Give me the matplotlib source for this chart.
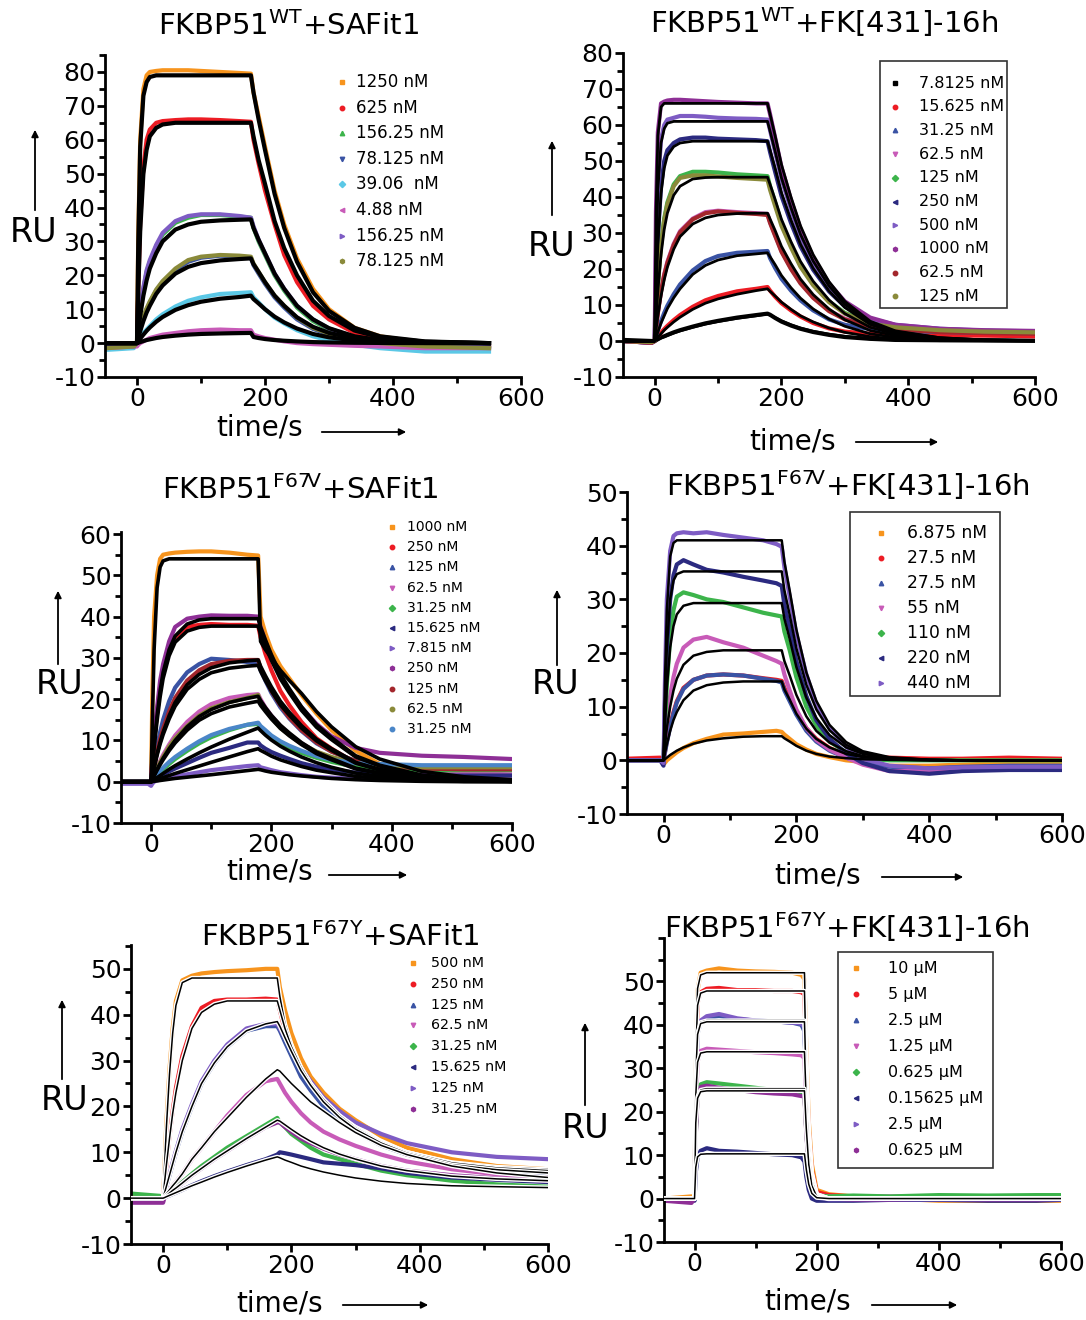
import matplotlib
matplotlib.use('Agg')
import matplotlib.pyplot as plt
from matplotlib.lines import Line2D
from matplotlib.patches import Rectangle, FancyArrowPatch
from matplotlib.ticker import MultipleLocator
import matplotlib.patheffects as pe

plt.rcParams['font.family'] = ['DejaVu Sans']
plt.rcParams['axes.unicode_minus'] = False
plt.rcParams['mathtext.default'] = 'regular'

# ---------------- data ----------------
# panel 1: FKBP51 WT + SAFit1
t1 = [-48, -5, 0, 2, 5, 10, 15, 20, 30, 40, 60, 80, 100, 130, 160, 178, 182, 190, 200, 215, 230, 250, 275, 300, 340, 380, 450, 550]
labels1 = ['1250 nM', '625 nM', '156.25 nM', '78.125 nM', '39.06  nM', '4.88 nM', '156.25 nM', '78.125 nM']
data1 = [
    [-1.5, -1, 0, 32, 60, 75, 79, 80, 80.3, 80.5, 80.5, 80.5, 80.3, 80, 79.7, 79.5, 74, 67, 58, 45, 35, 25, 16, 10, 4.5, 2, 0, -1],
    [-1.5, -1, 0, 16, 36, 52, 60, 63, 65, 65.5, 65.8, 66, 66, 65.8, 65.5, 65.3, 60, 53, 45, 35, 26, 18, 11, 7, 3, 1, -0.5, -1.5],
    [-1, -1, 0, 5, 10, 16, 21, 24, 28.5, 32, 35.5, 37, 37.8, 37.8, 37.3, 37, 34, 30, 26, 20, 15.5, 10.5, 6.5, 4, 1.5, 0.3, -0.8, -1.5],
    [-1, -1, 0, 2, 4.5, 7.5, 10, 12, 15.5, 18, 21.5, 24, 25.2, 25.8, 25.5, 25.2, 23, 20.5, 17.5, 13.5, 10.5, 7, 4.2, 2.5, 0.8, 0, -1, -1.8],
    [-2, -1.5, 0, 1, 2, 3, 4, 5, 7, 8.5, 10.8, 12.5, 13.5, 14.5, 14.8, 15, 13.5, 12, 10, 7.5, 5.8, 3.8, 2, 0.8, -0.5, -1.5, -2.5, -2.5],
    [-1.5, -1, -1, -0.5, 0, 0.5, 1, 1.5, 2, 2.5, 3, 3.5, 3.8, 4, 3.8, 3.8, 2.5, 2, 1.5, 1, 0.5, 0, -0.3, -0.5, -0.8, -1, -1.5, -1.5],
    [-1, -1, 0, 5, 10, 16.5, 21.5, 24.5, 29, 32.5, 36, 37.5, 38, 38, 37.5, 37, 34.5, 30.5, 26.5, 20.5, 16, 11, 7, 4.3, 1.8, 0.5, -0.5, -1],
    [-1.5, -1, 0, 2.2, 4.7, 7.8, 10.3, 12.3, 15.8, 18.3, 22, 24.5, 25.5, 26, 25.8, 25.5, 23.5, 21, 18, 14, 11, 7.5, 4.5, 2.8, 1, 0, -1, -1.5],
]
fits1 = [
    [0, 0, 0, 30, 58, 73, 77, 78.5, 79, 79, 79, 79, 79, 79, 79, 79, 74, 66, 57, 44, 34, 24, 15, 9.5, 4.5, 2, 0.5, 0],
    [0, 0, 0, 15, 33, 50, 57, 61, 63.5, 64.5, 65, 65, 65, 65, 65, 65, 61, 54, 47, 36, 28, 20, 12.5, 8, 3.7, 1.7, 0.4, 0],
    [0, 0, 0, 3.5, 8, 14, 18.5, 22, 26.5, 30, 33.5, 35, 35.8, 36.2, 36.4, 36.5, 34, 30.5, 26.5, 20.5, 16, 11, 7, 4.4, 2, 0.9, 0.2, 0],
    [0, 0, 0, 1.5, 3.5, 6.5, 9, 11, 14.5, 17, 20.5, 22.5, 23.6, 24.4, 24.8, 25, 23.3, 21, 18, 14, 11, 7.6, 4.8, 3, 1.4, 0.6, 0.1, 0],
    [0, 0, 0, 0.5, 1.3, 2.5, 3.6, 4.6, 6.3, 7.7, 9.8, 11.2, 12.2, 13.1, 13.6, 14, 13, 11.7, 10, 7.8, 6.1, 4.3, 2.7, 1.7, 0.8, 0.35, 0.05, 0],
    [0, 0, 0, 0.1, 0.3, 0.6, 0.9, 1.1, 1.5, 1.8, 2.2, 2.5, 2.7, 2.85, 2.95, 3, 1.8, 1.5, 1.2, 0.9, 0.7, 0.5, 0.3, 0.2, 0.1, 0.05, 0, 0],
]

# panel 2: FKBP51 WT + FK[431]-16h
t2 = [-50, -5, 0, 2, 5, 10, 15, 20, 30, 40, 60, 80, 100, 130, 160, 178, 182, 190, 200, 215, 230, 250, 275, 300, 340, 380, 450, 520, 600]
labels2 = ['7.8125 nM', '15.625 nM', '31.25 nM', '62.5 nM', '125 nM', '250 nM', '500 nM', '1000 nM', '62.5 nM', '125 nM']
data2 = [
    [0.3, 0, 0, 0.2, 0.5, 1, 1.3, 1.7, 2.4, 3, 4, 4.9, 5.6, 6.5, 7.2, 7.6, 7.3, 6.4, 5.4, 4.3, 3.4, 2.5, 1.7, 1.1, 0.6, 0.3, 0.2, 0.2, 0.1],
    [0, -0.3, 0, 0.6, 1.3, 2.3, 3.3, 4.2, 5.8, 7.2, 9.5, 11.3, 12.5, 13.8, 14.5, 15, 14, 12.3, 10.5, 8.5, 6.8, 5, 3.5, 2.6, 2, 1.8, 1.5, 1.5, 1.3],
    [0, -0.5, 0, 1.2, 3, 5.5, 7.8, 9.8, 13, 15.7, 19.6, 22.2, 23.6, 24.5, 24.8, 25, 23, 20.3, 17.3, 14, 11.3, 8.5, 6, 4.5, 3.3, 2.8, 2.5, 2.3, 2.2],
    [0, -0.5, 0, 3.5, 8, 14, 18.5, 22, 27, 30.5, 34, 35.8, 36.2, 35.8, 35.5, 35.3, 33, 29.5, 25, 20.3, 16.3, 12.2, 8.5, 6.2, 4.3, 3.5, 2.8, 2.6, 2.4],
    [0, -0.3, 0, 7, 16, 27, 34, 38.5, 43.5, 45.8, 47, 47, 46.8, 46.3, 46, 45.8, 43, 38.5, 32.8, 26.5, 21, 15.8, 11, 7.8, 5, 4, 3.2, 2.8, 2.6],
    [0, -0.5, 0, 13, 29, 43, 50, 53, 55, 56, 56.5, 56.5, 56.2, 56, 55.8, 55.5, 52.5, 47, 40.3, 32.8, 26.3, 19.8, 13.8, 9.6, 5.8, 4.3, 3.3, 2.8, 2.6],
    [0, -0.3, 0, 23, 43, 56, 60, 61.5, 62, 62.5, 62.5, 62.3, 62, 61.8, 61.7, 61.5, 58.5, 52.5, 45, 36.5, 29, 21.5, 15, 10.3, 6.2, 4.5, 3.4, 2.9, 2.7],
    [0, -0.5, 0, 36, 58, 66, 66.5, 66.8, 67, 67, 66.8, 66.6, 66.4, 66.2, 66, 66, 63, 56.5, 48.3, 39.2, 31.2, 23.2, 16, 11, 6.5, 4.5, 3.4, 3, 2.8],
    [0, -0.5, 0, 3.3, 7.8, 13.8, 18.3, 21.7, 26.7, 30.2, 33.8, 35.5, 36, 35.6, 35.3, 35, 32.8, 29.2, 24.8, 20, 16, 12, 8.3, 6, 4, 3.2, 2.5, 2.2, 2],
    [0, -0.3, 0, 6.8, 15.5, 26.5, 33.5, 38, 43, 45.3, 46, 46, 45.7, 45.3, 45, 44.8, 42, 37.5, 32, 26, 20.6, 15.5, 10.8, 7.6, 4.8, 3.8, 3, 2.6, 2.4],
]
fits2 = [
    [0, 0, 0, 35, 57, 65, 66, 66, 66, 66, 66, 66, 66, 66, 66, 66, 63, 57, 49, 40, 32, 24, 16.5, 11, 5.5, 2.8, 0.9, 0.3, 0.1],
    [0, 0, 0, 22, 42, 55, 59, 60.5, 61, 61, 61, 61, 61, 61, 61, 61, 58.3, 52.7, 45.3, 37, 29.6, 22.2, 15.3, 10.2, 5.1, 2.6, 0.9, 0.3, 0.1],
    [0, 0, 0, 12, 27, 41, 48, 51.5, 54, 55, 55.5, 55.5, 55.5, 55.5, 55.5, 55.5, 53, 48, 41.2, 33.6, 26.9, 20.2, 13.9, 9.3, 4.6, 2.3, 0.8, 0.3, 0.1],
    [0, 0, 0, 6, 14, 24, 31, 35.5, 40.5, 43, 45, 45.4, 45.5, 45.5, 45.5, 45.5, 43.5, 39.3, 33.8, 27.6, 22.1, 16.6, 11.4, 7.6, 3.8, 1.9, 0.6, 0.2, 0.1],
    [0, 0, 0, 3, 7, 12.5, 17, 20.5, 25.5, 29, 32.5, 34.2, 35, 35.4, 35.5, 35.5, 33.9, 30.7, 26.3, 21.5, 17.2, 12.9, 8.9, 5.9, 2.9, 1.5, 0.5, 0.2, 0],
    [0, 0, 0, 1, 2.5, 5, 7, 9, 12, 14.5, 18.5, 21, 22.5, 23.7, 24.2, 24.5, 23.4, 21.2, 18.2, 14.8, 11.9, 8.9, 6.1, 4.1, 2, 1, 0.3, 0.1, 0],
    [0, 0, 0, 0.4, 1, 2, 3, 3.8, 5.3, 6.6, 8.8, 10.5, 11.7, 13, 14, 14.5, 13.8, 12.5, 10.8, 8.8, 7, 5.3, 3.6, 2.4, 1.2, 0.6, 0.2, 0.1, 0],
    [0, 0, 0, 0.2, 0.4, 0.8, 1.2, 1.5, 2.2, 2.8, 3.8, 4.7, 5.4, 6.3, 7, 7.5, 7.2, 6.5, 5.6, 4.5, 3.6, 2.7, 1.9, 1.3, 0.6, 0.3, 0.1, 0, 0],
]

# panel 3: FKBP51 F67V + SAFit1
t3 = [-50, -5, 0, 2, 5, 10, 15, 20, 30, 40, 60, 80, 100, 130, 160, 178, 182, 190, 200, 215, 230, 250, 275, 300, 340, 380, 450, 520, 600]
labels3 = ['1000 nM', '250 nM', '125 nM', '62.5 nM', '31.25 nM', '15.625 nM', '7.815 nM', '250 nM', '125 nM', '62.5 nM', '31.25 nM']
data3 = [
    [-0.3, 0, 0, 20, 40, 50, 54, 55, 55.3, 55.5, 55.7, 55.8, 55.8, 55.5, 55, 54.8, 40, 36, 32, 28, 25, 21, 16.5, 12.5, 7.5, 4.3, 1.5, 0.8, 0.5],
    [0, 0, 0, 5, 10, 17, 23, 27, 32, 35, 37.5, 38, 38.2, 38, 38, 37.8, 35, 31, 27, 22, 18.5, 14.5, 10.5, 8, 4.5, 2.5, 1, 0.5, 0.3],
    [0, 0, 0, 2, 4.5, 8.5, 12, 15, 19.5, 22.8, 26.5, 28.5, 29.8, 29.5, 29, 28.8, 27, 24.5, 21.5, 18, 15.3, 12.3, 9.3, 7.3, 5, 3.5, 2.5, 2, 1.5],
    [0, 0, 0, 0.8, 1.8, 3.5, 5, 6.5, 9, 11.2, 14.5, 17, 18.8, 20.3, 21, 21.2, 20, 18, 16, 13.5, 11.5, 9.3, 7.2, 5.8, 4, 3, 2.3, 2, 1.8],
    [0, 0, 0, 0.3, 0.8, 1.5, 2.2, 3, 4.3, 5.5, 7.5, 9.3, 10.8, 12.5, 13.8, 14, 13, 12, 10.8, 9.5, 8.3, 7, 5.8, 4.8, 3.6, 3, 2.7, 2.8, 2.8],
    [0, 0, 0, 0.2, 0.5, 0.9, 1.3, 1.7, 2.5, 3.2, 4.5, 5.8, 7, 8.2, 9.5, 9.5, 8.8, 8, 7.2, 6.3, 5.5, 4.5, 3.6, 3, 2.2, 1.8, 1.5, 1.5, 1.5],
    [-0.5, -0.5, -1, -0.5, 0, 0.3, 0.5, 0.7, 1, 1.3, 1.8, 2.3, 2.8, 3.3, 3.8, 4, 3.5, 3.2, 2.8, 2.3, 2, 1.6, 1.2, 1, 0.7, 0.5, 0.5, 0.5, 0.5],
    [0, 0, 0, 5.5, 11, 18, 24.5, 28.5, 34, 37.5, 39.5, 40, 40.3, 40.2, 40.2, 40, 37.5, 34, 30, 25.5, 22, 18, 14, 11, 8.2, 7, 6.3, 6, 5.5],
    [0, 0, 0, 1.5, 3.8, 7.3, 10.3, 12.8, 17, 20.3, 24.5, 27, 28.5, 29.3, 29.5, 29.5, 27.5, 25, 22, 18.5, 15.5, 12.5, 9.5, 7.3, 5, 3.8, 3.2, 3, 3],
    [0, 0, 0, 0.7, 1.6, 3.2, 4.7, 6, 8.5, 10.5, 13.5, 16, 17.8, 19.3, 20.3, 21, 19.3, 17.5, 15.5, 13, 11.3, 9.2, 7.3, 6, 4.5, 4, 3.5, 3.5, 3.5],
    [0, 0, 0, 0.4, 1, 1.8, 2.6, 3.4, 4.8, 6, 8, 9.8, 11.3, 12.8, 13.8, 14.3, 13.5, 12.5, 11.2, 9.8, 8.7, 7.5, 6.2, 5.3, 4.5, 4.3, 4, 4, 4],
]
fits3 = [
    [0, 0, 0, 14, 32, 47, 52, 53.5, 54, 54, 54, 54, 54, 54, 54, 54, 34, 32, 30, 27, 24.5, 21.4, 17, 13.3, 8.5, 5.5, 2.5, 1.2, 0.5],
    [0, 0, 0, 4, 9, 16, 22, 26.5, 32, 35.3, 38.2, 39.2, 39.5, 39.5, 39.5, 39.5, 37.5, 34.4, 30.8, 26.1, 22.5, 18.2, 13.8, 10.7, 6.3, 4, 1.6, 0.6, 0.2],
    [0, 0, 0, 3.6, 8.2, 14.8, 20.5, 25, 30.5, 33.8, 36.5, 37.4, 37.7, 37.7, 37.7, 37.7, 35.8, 32.8, 29.4, 24.9, 21.5, 17.3, 13.2, 10.2, 6, 3.8, 1.5, 0.6, 0.2],
    [0, 0, 0, 1.4, 3.5, 6.8, 9.6, 12, 16, 19.2, 23.5, 26, 27.6, 28.8, 29.3, 29.5, 28, 25.7, 23, 19.5, 16.8, 13.6, 10.3, 8, 4.7, 3, 1.2, 0.4, 0.1],
    [0, 0, 0, 1.3, 3.3, 6.4, 9.1, 11.4, 15.2, 18.3, 22.4, 24.8, 26.4, 27.5, 28, 28.2, 26.8, 24.5, 22, 18.6, 16.1, 13, 9.9, 7.6, 4.5, 2.8, 1.1, 0.4, 0.1],
    [0, 0, 0, 0.6, 1.5, 3, 4.4, 5.7, 8, 10, 13.3, 15.8, 17.5, 19.2, 20.2, 20.7, 19.7, 18, 16.1, 13.7, 11.8, 9.5, 7.2, 5.6, 3.3, 2.1, 0.8, 0.3, 0.1],
    [0, 0, 0, 0.55, 1.4, 2.8, 4.1, 5.3, 7.5, 9.4, 12.5, 14.9, 16.5, 18.1, 19, 19.5, 18.5, 17, 15.2, 12.9, 11.1, 9, 6.8, 5.3, 3.1, 2, 0.8, 0.3, 0.1],
    [0, 0, 0, 0.2, 0.5, 1, 1.5, 2, 3, 3.9, 5.5, 7, 8.4, 10.3, 12, 13, 12.4, 11.3, 10.1, 8.6, 7.4, 6, 4.6, 3.5, 2.1, 1.3, 0.5, 0.2, 0.1],
    [0, 0, 0, 0.1, 0.25, 0.5, 0.75, 1, 1.5, 2, 2.9, 3.8, 4.7, 6, 7.3, 8, 7.6, 7, 6.2, 5.3, 4.6, 3.7, 2.8, 2.2, 1.3, 0.8, 0.3, 0.1, 0],
    [0, 0, 0, 0.05, 0.1, 0.2, 0.3, 0.4, 0.6, 0.8, 1.1, 1.4, 1.7, 2.2, 2.7, 3, 2.9, 2.6, 2.3, 2, 1.7, 1.4, 1.1, 0.8, 0.5, 0.3, 0.1, 0, 0],
]

# panel 4: FKBP51 F67V + FK[431]-16h
t4 = [-55, -5, 0, 2, 5, 10, 15, 20, 30, 45, 65, 90, 120, 150, 170, 178, 182, 190, 200, 215, 230, 250, 275, 300, 340, 400, 450, 520, 600]
labels4 = ['6.875 nM', '27.5 nM', '27.5 nM', '55 nM', '110 nM', '220 nM', '440 nM']
data4 = [
    [0, 0, 0, -0.5, 0, 0.5, 1, 1.5, 2.3, 3.2, 4, 4.8, 5, 5.3, 5.5, 5.3, 4.8, 4, 3, 2, 1.2, 0.6, 0, -0.3, -1, -1, -0.8, -0.5, -0.5],
    [0.3, 0.5, 0, 1.5, 3.5, 6.5, 9, 11, 13.5, 15, 15.8, 16, 15.8, 15.3, 15, 14.8, 13.5, 11.5, 9, 6, 4, 2.3, 1, 0.5, 0.5, 0.3, 0.3, 0.5, 0.3],
    [0, 0, 0, 1.3, 3.3, 6.2, 8.7, 10.8, 13.3, 15, 15.8, 16, 15.8, 15.2, 14.8, 14.5, 13, 11, 8.5, 5.5, 3.5, 1.8, 0.5, -0.5, -1.2, -1.5, -1.2, -1, -1],
    [0, 0, -0.5, 3, 7, 12, 15.5, 18, 21, 22.5, 23, 22, 21, 19.5, 18.5, 18, 16, 13, 9.5, 6, 3.8, 2, 0.5, -0.8, -2, -2, -1.8, -1.5, -1.5],
    [0, 0, 0, 6, 14, 23, 28, 30.5, 31.3, 30.8, 30, 29.5, 28.5, 27.5, 27, 26.8, 24, 20.5, 15.5, 10, 6.5, 3.5, 1.5, 0.3, 0, 0, 0, 0, 0],
    [0, 0, -1, 10, 21, 30, 34.5, 36.5, 37.3, 36.5, 35.5, 35, 34.2, 33.5, 33, 32.5, 29, 24.5, 18.5, 12, 7.5, 4, 1.3, -0.5, -2, -2.5, -2, -1.8, -1.8],
    [0, 0, -0.5, 14, 30, 39, 41.8, 42.3, 42.5, 42.3, 42.5, 42, 41.5, 41, 40.3, 39.8, 36, 30.5, 23.5, 16, 10.5, 6, 2.5, 0.3, -1, -1.5, -1.3, -1.2, -1.2],
]
fits4 = [
    [0, 0, 0, 14, 28, 38, 40.5, 41, 41, 41, 41, 41, 41, 41, 41, 41, 37, 31.6, 24.4, 16.4, 11.1, 6.6, 3.4, 1.7, 0.6, 0.1, 0, 0, 0],
    [0, 0, 0, 10, 21, 30, 33.5, 34.7, 35.2, 35.2, 35.2, 35.2, 35.2, 35.2, 35.2, 35.2, 31.7, 27.1, 20.9, 14.1, 9.5, 5.6, 2.9, 1.4, 0.5, 0.1, 0, 0, 0],
    [0, 0, 0, 6, 13.5, 21, 25, 27.2, 28.8, 29.3, 29.3, 29.3, 29.3, 29.3, 29.3, 29.3, 26.4, 22.6, 17.4, 11.7, 7.9, 4.7, 2.4, 1.2, 0.4, 0.1, 0, 0, 0],
    [0, 0, 0, 2.5, 6, 10, 13, 15.2, 17.8, 19.5, 20.2, 20.5, 20.5, 20.5, 20.5, 20.5, 18.5, 15.8, 12.2, 8.2, 5.5, 3.3, 1.7, 0.8, 0.3, 0.1, 0, 0, 0],
    [0, 0, 0, 1.2, 3, 5.5, 7.5, 9, 11.2, 13, 14, 14.5, 14.7, 14.7, 14.7, 14.7, 13.2, 11.3, 8.7, 5.9, 4, 2.4, 1.2, 0.6, 0.2, 0, 0, 0, 0],
    [0, 0, 0, 0.2, 0.5, 1, 1.4, 1.8, 2.4, 3.1, 3.7, 4.1, 4.4, 4.5, 4.5, 4.5, 4.1, 3.5, 2.7, 1.8, 1.2, 0.7, 0.4, 0.2, 0.1, 0, 0, 0, 0],
]

# panel 5: FKBP51 F67Y + SAFit1
t5 = [-50, -5, 0, 2, 5, 10, 15, 20, 30, 45, 60, 80, 100, 130, 160, 178, 182, 190, 200, 215, 230, 250, 275, 300, 340, 380, 450, 520, 600]
labels5 = ['500 nM', '250 nM', '125 nM', '62.5 nM', '31.25 nM', '15.625 nM', '125 nM', '31.25 nM']
data5 = [
    [0.5, 0, 0, 6, 16, 28, 37, 43, 47.5, 48.5, 49, 49.3, 49.5, 49.7, 50, 50, 46, 41, 36, 30.5, 26.5, 23, 19.5, 17, 13.5, 11, 8.5, 7, 6.3],
    [0, 0, 0, 3, 7, 13.5, 19, 24, 31, 37.5, 41.5, 43, 43.3, 43.3, 43.5, 43.3, 41, 36.5, 32, 27.5, 24, 20.5, 17.5, 15, 12, 9.5, 7.5, 6.3, 5.5],
    [0, 0, 0, 1, 2.5, 5, 7.5, 10, 14.5, 20, 25, 29.5, 33, 36.5, 37.5, 37.5, 36.5, 34, 31, 26.5, 23.5, 20, 17, 14.5, 11.5, 9.5, 7.3, 6, 5],
    [0, -0.5, 0, 0.4, 0.9, 1.8, 2.7, 3.5, 5.3, 8.5, 11, 14.5, 18, 22.5, 25.5, 26, 25, 23, 21, 18.5, 16.5, 14.5, 12.8, 11.4, 9.5, 8, 6.3, 5.2, 4.5],
    [1, 0.5, 0, 0.2, 0.5, 1.1, 1.7, 2.3, 3.5, 5.3, 7, 9, 11, 13.5, 16, 17.5, 16.5, 15.5, 14, 12.5, 11, 9.5, 8.5, 7.5, 6, 5, 3.8, 3, 2.5],
    [0, -0.5, 0, 0.1, 0.3, 0.6, 0.9, 1.2, 1.8, 2.8, 3.7, 4.8, 5.8, 7.2, 8.5, 9.5, 10, 9.8, 9.5, 9, 8.5, 7.8, 7.5, 7.2, 6.5, 5.5, 4.5, 4, 3.5],
    [0, 0, 0, 1, 2.6, 5.2, 7.8, 10.3, 15, 20.5, 25.5, 30, 33.5, 37, 38, 38, 37, 35, 32.5, 28.5, 25.5, 22, 19, 16.5, 14, 12, 10, 9, 8.5],
    [-1, -1, -1, 0, 0.5, 1.1, 1.7, 2.2, 3.3, 5, 6.5, 8.5, 10.3, 13, 15.5, 16.5, 16.5, 15.5, 14.5, 13, 12, 10.8, 9.5, 8.5, 7, 6, 5, 4.3, 3.8],
]
fits5 = [
    [0, 0, 0, 6, 15, 27, 36, 42, 47, 48, 48, 48, 48, 48, 48, 48, 44, 38, 33.5, 28.5, 25, 21.5, 18, 15.5, 12.3, 10, 7.8, 6.8, 6.3],
    [0, 0, 0, 3, 7, 13, 18.5, 23, 30, 37, 40.5, 42.3, 43, 43, 43, 43, 41, 37, 33, 28.5, 25, 21.5, 18, 15.3, 12.2, 10, 7.7, 6.6, 6],
    [0, 0, 0, 1, 2.5, 5, 7.5, 10, 14.5, 20, 25, 29.5, 33, 36.5, 38, 38.5, 37.5, 35, 32, 27.8, 24.6, 21, 17.6, 15, 12, 9.8, 7.3, 6.2, 5.5],
    [0, 0, 0, 0.4, 0.9, 1.8, 2.7, 3.5, 5.3, 8.5, 11, 14.5, 17.5, 22, 26, 28, 27.7, 26.5, 25, 23, 21, 19, 16.5, 14.3, 11.5, 9.5, 7, 5.5, 4.5],
    [0, 0, 0, 0.2, 0.5, 1.1, 1.7, 2.2, 3.3, 5, 6.5, 8.5, 10.3, 13, 15.5, 17, 16.8, 16, 15, 13.6, 12.4, 11, 9.6, 8.5, 7, 6, 4.8, 4.2, 3.8],
    [0, 0, 0, 0.1, 0.3, 0.6, 0.9, 1.2, 1.8, 2.7, 3.5, 4.6, 5.6, 7, 8.3, 9, 8.8, 8.3, 7.8, 7, 6.4, 5.7, 5, 4.4, 3.7, 3.2, 2.7, 2.5, 2.3],
]

# panel 6: FKBP51 F67Y + FK[431]-16h
t6 = [-50, -5, 0, 2, 5, 10, 20, 40, 70, 100, 130, 160, 175, 180, 183, 187, 192, 200, 220, 260, 320, 400, 480, 560, 600]
labels6 = ['10 µM', '5 µM', '2.5 µM', '1.25 µM', '0.625 µM', '0.15625 µM', '2.5 µM', '0.625 µM']
data6 = [
    [0, 0.5, 0, 30, 48, 52, 52.5, 53, 52.5, 52.3, 52.2, 52, 51.5, 50.5, 34, 18, 8, 2, 1, 0.5, 0, -0.5, -0.5, -0.5, -0.5],
    [0, 0, 0, 28, 45, 47.5, 48.3, 48.5, 48, 48, 47.8, 47.8, 47.5, 47, 30.5, 16, 6.5, 1.5, 0.8, 0.5, 0.3, 0.3, 0.2, 0.2, 0.2],
    [0, 0, 0, 25, 38, 40.5, 41.5, 42, 41.3, 41, 40.8, 40.5, 40, 38.5, 25, 12, 4, 0.5, -0.3, -0.3, -0.2, -0.2, -0.3, -0.3, -0.3],
    [0, 0, 0, 20, 31.5, 34, 34.5, 34.3, 34, 33.7, 33.5, 33.2, 33, 32.3, 21, 10.5, 3.8, 0.8, 0.5, 0.5, 0.5, 0.5, 0.5, 0.5, 0.5],
    [0, 0, 0, 15, 24, 26.3, 26.8, 26.5, 26, 25.5, 25, 24.8, 24.5, 24, 15.5, 7.8, 3, 0.7, 0.5, 0.7, 0.5, 0.8, 0.7, 0.8, 0.8],
    [0, 0, -0.5, 6, 9.5, 11, 11.6, 11, 10.8, 10.5, 10.2, 10, 9.5, 8.5, 5, 2, 0, -0.5, -0.5, -0.5, -0.3, -0.3, -0.5, -0.5, -0.3],
    [0, 0, 0, 25.5, 38.5, 41, 42, 42.5, 41.5, 41, 40.8, 40.5, 40.3, 39.5, 25.5, 12.5, 4.3, 0.5, -0.2, -0.2, -0.2, -0.2, -0.2, -0.2, -0.2],
    [-0.5, -1, 0, 14.5, 23.5, 25.7, 26, 25.5, 25, 24.5, 24.2, 24, 23.6, 23.5, 15, 7.5, 2.8, 0.5, 0, -0.2, -0.2, 0, -0.2, -0.2, 0],
]
fits6 = [
    [0, 0, 0, 36, 48.4, 51.5, 52, 52, 52, 52, 52, 52, 52, 52, 33.8, 16.6, 6.2, 1, 0, 0, 0, 0, 0, 0, 0],
    [0, 0, 0, 33.5, 44.5, 47.3, 47.8, 47.8, 47.8, 47.8, 47.8, 47.8, 47.8, 47.8, 31, 15.3, 5.7, 1, 0, 0, 0, 0, 0, 0, 0],
    [0, 0, 0, 28.7, 38.1, 40.6, 41, 41, 41, 41, 41, 41, 41, 41, 26.7, 13.1, 4.9, 0.8, 0, 0, 0, 0, 0, 0, 0],
    [0, 0, 0, 28.5, 37.8, 40.3, 40.7, 40.7, 40.7, 40.7, 40.7, 40.7, 40.7, 40.7, 26.5, 13, 4.9, 0.8, 0, 0, 0, 0, 0, 0, 0],
    [0, 0, 0, 23.7, 31.4, 33.5, 33.8, 33.8, 33.8, 33.8, 33.8, 33.8, 33.8, 33.8, 22, 10.8, 4.1, 0.7, 0, 0, 0, 0, 0, 0, 0],
    [0, 0, 0, 17.7, 23.5, 25, 25.3, 25.3, 25.3, 25.3, 25.3, 25.3, 25.3, 25.3, 16.4, 8.1, 3, 0.5, 0, 0, 0, 0, 0, 0, 0],
    [0, 0, 0, 17.4, 23.1, 24.6, 24.8, 24.8, 24.8, 24.8, 24.8, 24.8, 24.8, 24.8, 16.1, 7.9, 3, 0.5, 0, 0, 0, 0, 0, 0, 0],
    [0, 0, 0, 7.2, 9.6, 10.2, 10.3, 10.3, 10.3, 10.3, 10.3, 10.3, 10.3, 10.3, 6.7, 3.3, 1.2, 0.2, 0, 0, 0, 0, 0, 0, 0],
]

# ---------------- colours / markers (Prism style) ----------------
ORANGE, RED, GREEN, BLUE = '#f7941d', '#ed1c24', '#3cb44b', '#3a53a4'
CYAN, PINK, LPURPLE, OLIVE = '#5bc8e6', '#c85bb8', '#7e5cc4', '#8a8a3a'
DBLUE, PURPLE, DRED, SBLUE = '#2b2a80', '#8e2f96', '#a3262c', '#4a86c8'

colors1 = [ORANGE, RED, GREEN, BLUE, CYAN, PINK, LPURPLE, OLIVE]
markers1 = ['s', 'o', '^', 'v', 'D', '<', '>', 'h']
colors2 = ['k', RED, BLUE, PINK, GREEN, DBLUE, LPURPLE, PURPLE, DRED, OLIVE]
markers2 = ['s', 'o', '^', 'v', 'D', '<', '>', 'h', 'o', 'o']
colors3 = [ORANGE, RED, BLUE, PINK, GREEN, DBLUE, LPURPLE, PURPLE, DRED, OLIVE, SBLUE]
markers3 = ['s', 'o', '^', 'v', 'D', '<', '>', 'h', 'o', 'o', 'o']
colors4 = [ORANGE, RED, BLUE, PINK, GREEN, DBLUE, LPURPLE]
markers4 = ['s', 'o', '^', 'v', 'D', '<', '>']
colors5 = [ORANGE, RED, BLUE, PINK, GREEN, DBLUE, LPURPLE, PURPLE]
markers5 = ['s', 'o', '^', 'v', 'D', '<', '>', 'h']

W, H = 1086, 1320
fig = plt.figure(figsize=(W / 100, H / 100), dpi=100)


def fx(x):
    return x / W


def fy(y):
    return 1 - y / H


def panel(box, xlim, ylim, ytop_label, t, data, colors, fits, fit_lw, halo=False):
    L, T, R, B = box
    ax = fig.add_axes([fx(L), fy(B), (R - L) / W, (B - T) / H])
    for vals, c in zip(data, colors):
        ax.plot(t, vals, color=c, lw=3.0, zorder=2)
    for vals in fits:
        if halo:
            ax.plot(t, vals, color='k', lw=fit_lw, zorder=3,
                    path_effects=[pe.withStroke(linewidth=fit_lw + 2, foreground='white')])
        else:
            ax.plot(t, vals, color='k', lw=fit_lw, zorder=3)
    ax.set_xlim(*xlim)
    ax.set_ylim(*ylim)
    ax.set_xticks([0, 200, 400, 600])
    ax.xaxis.set_minor_locator(MultipleLocator(100))
    ax.set_yticks(list(range(-10, ytop_label + 1, 10)))
    ax.yaxis.set_minor_locator(MultipleLocator(5))
    ax.spines[['top', 'right']].set_visible(False)
    ax.spines[['left', 'bottom']].set_linewidth(2)
    ax.tick_params(which='major', length=6, width=2, labelsize=18, pad=1)
    ax.tick_params(which='minor', length=4, width=2)
    ax.patch.set_alpha(0)
    return ax


def legend(labels, colors, markers, fs, xm, xt, y0, dy, box=None):
    for i, (lab, c, m) in enumerate(zip(labels, colors, markers)):
        y = y0 + i * dy
        fig.add_artist(Line2D([fx(xm)], [fy(y)], marker=m, color=c, ms=3.2, ls='none',
                              transform=fig.transFigure))
        fig.text(fx(xt), fy(y), lab, fontsize=fs, va='center', ha='left')
    if box is not None:
        x0, y0b, x1, y1b = box
        fig.add_artist(Rectangle((fx(x0), fy(y1b)), (x1 - x0) / W, (y1b - y0b) / H, fill=False,
                                 ec='#333333', lw=1.2, transform=fig.transFigure))


def labels_and_arrows(title, tpos, ru_pos, ru_arrow, ts_pos, ts_arrow):
    fig.text(fx(tpos[0]), fy(tpos[1]), title, fontsize=21, ha='center', va='center')
    fig.text(fx(ru_pos[0]), fy(ru_pos[1]), 'RU', fontsize=24, ha='center', va='center')
    fig.text(fx(ts_pos[0]), fy(ts_pos[1]), 'time/s', fontsize=20, ha='center', va='center')
    x, ya, yb = ru_arrow
    fig.add_artist(FancyArrowPatch((fx(x), fy(ya)), (fx(x), fy(yb)), transform=fig.transFigure,
                                   arrowstyle='-|>', mutation_scale=10, lw=1.3, color='k'))
    y, xa, xb = ts_arrow
    fig.add_artist(FancyArrowPatch((fx(xa), fy(y)), (fx(xb), fy(y)), transform=fig.transFigure,
                                   arrowstyle='-|>', mutation_scale=10, lw=1.3, color='k'))


# panel 1
panel((105, 55, 521, 377), (-50, 600), (-10, 85), 80, t1, data1, colors1, fits1, 3.0)
legend(labels1, colors1, markers1, 12, 342, 356, 82, 25.6)
labels_and_arrows('FKBP51$^{WT}$+SAFit1', (289, 26), (34, 233), (35, 213, 127), (260, 428), (432, 319, 409))

# panel 2
panel((623, 53, 1035, 377), (-50, 600), (-10, 80), 80, t2, data2, colors2, fits2, 2.0)
legend(labels2, colors2, markers2, 11.5, 895, 919, 83, 23.7, box=(880, 61, 1007, 308))
labels_and_arrows('FKBP51$^{WT}$+FK[431]-16h', (824, 22), (552, 247), (552, 218, 138), (793, 441), (442, 853, 941))

# panel 3
panel((121, 532, 512, 823), (-50, 600), (-10, 60.5), 60, t3, data3, colors3, fits3, 2.6)
legend(labels3, colors3, markers3, 10, 392, 407, 527, 20.2)
labels_and_arrows('FKBP51$^{F67V}$+SAFit1', (300, 490), (60, 684), (58, 667, 588), (270, 872), (875, 326, 410))

# panel 4
panel((627, 492, 1062, 814), (-55, 600), (-10, 50), 50, t4, data4, colors4, fits4, 1.8)
legend(labels4, colors4, markers4, 12.3, 881, 907, 533, 25, box=(850, 512, 1000, 696))
labels_and_arrows('FKBP51$^{F67V}$+FK[431]-16h', (848, 485), (556, 685), (557, 668, 587), (818, 876), (877, 879, 966))

# panel 5
panel((131, 945, 548, 1244), (-50, 600), (-10, 55.2), 50, t5, data5, colors5, fits5, 1.1, halo=True)
legend(labels5, colors5, markers5, 10.3, 413, 431, 963, 20.8)
labels_and_arrows('FKBP51$^{F67Y}$+SAFit1', (340, 937), (65, 1100), (62, 1082, 997), (280, 1303), (1305, 340, 431))

# panel 6
panel((664, 938, 1061, 1242), (-50, 600), (-10, 60), 50, t6, data6, colors5, fits6, 1.1, halo=True)
legend(labels6, colors5, markers5, 11.5, 856, 888, 968, 26, box=(838, 952, 993, 1168))
labels_and_arrows('FKBP51$^{F67Y}$+FK[431]-16h', (847, 927), (586, 1128), (585, 1108, 1020), (808, 1301), (1305, 869, 960))

fig.savefig('out.png', dpi=100)
